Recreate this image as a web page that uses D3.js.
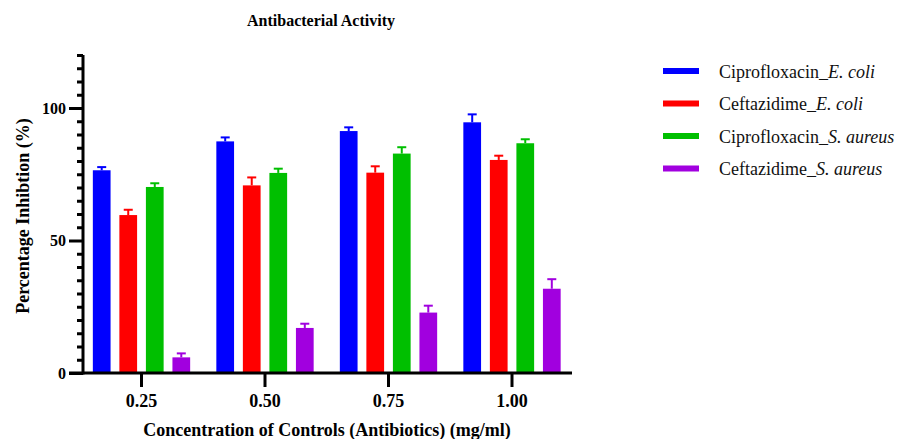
<!DOCTYPE html>
<html>
<head>
<meta charset="utf-8">
<script src="https://cdn.jsdelivr.net/npm/d3@7"></script>
<style>
  html, body { margin: 0; padding: 0; background: #fff; }
  text { font-family: "Liberation Serif", "Times New Roman", serif; }
</style>
</head>
<body>
<svg id="chart" width="899" height="439"></svg>
<script>
const categories = ["0.25", "0.50", "0.75", "1.00"];
const seriesNames = ["Ciprofloxacin_E. coli", "Ceftazidime_E. coli", "Ciprofloxacin_S. aureus", "Ceftazidime_S. aureus"];
const legendParts = [
  ["Ciprofloxacin_", "E. coli"],
  ["Ceftazidime_", "E. coli"],
  ["Ciprofloxacin_", "S. aureus"],
  ["Ceftazidime_", "S. aureus"]
];
const colors = ["#0000FF", "#FF0000", "#00BF00", "#A100DF"];
const cipEcoli = [76.5, 87.4, 91.3, 94.6];
const cefEcoli = [59.6, 70.8, 75.6, 80.4];
const cipSaureus = [70.2, 75.5, 82.8, 86.7];
const cefSaureus = [5.9, 17.0, 22.8, 31.8];
const cipEcoliErr = [1.2, 1.5, 1.4, 3.0];
const cefEcoliErr = [2.0, 3.0, 2.4, 1.6];
const cipSaureusErr = [1.4, 1.6, 2.4, 1.5];
const cefSaureusErr = [1.5, 1.6, 2.6, 3.6];
const yMajorTicks = [0, 50, 100];

const values = [cipEcoli, cefEcoli, cipSaureus, cefSaureus];
const errors = [cipEcoliErr, cefEcoliErr, cipSaureusErr, cefSaureusErr];

const svg = d3.select("#chart");

const axisX = 83, baseY = 373;
const y = d3.scaleLinear().domain([0, 120]).range([baseY, 55]);
const x = d3.scaleBand().domain(categories).range([79.75, 573.75])
  .paddingInner(0.212).paddingOuter(0.106);
const xs = d3.scaleBand().domain(seriesNames).range([0, x.bandwidth()])
  .paddingInner(0.332).paddingOuter(0);

// bars
const data = [];
categories.forEach((c, i) => {
  seriesNames.forEach((s, j) => {
    data.push({ cat: c, ser: s, v: values[j][i], e: errors[j][i], color: colors[j] });
  });
});

const g = svg.append("g");
g.selectAll("rect.bar").data(data).join("rect")
  .attr("class", "bar")
  .attr("x", d => x(d.cat) + xs(d.ser))
  .attr("width", xs.bandwidth())
  .attr("y", d => y(d.v))
  .attr("height", d => baseY - y(d.v))
  .attr("fill", d => d.color);

// error bars
const capW = 9;
g.selectAll("line.err").data(data).join("line")
  .attr("class", "err")
  .attr("x1", d => x(d.cat) + xs(d.ser) + xs.bandwidth() / 2)
  .attr("x2", d => x(d.cat) + xs(d.ser) + xs.bandwidth() / 2)
  .attr("y1", d => y(d.v))
  .attr("y2", d => y(d.v + d.e))
  .attr("stroke", d => d.color).attr("stroke-width", 2);
g.selectAll("line.cap").data(data).join("line")
  .attr("class", "cap")
  .attr("x1", d => x(d.cat) + xs(d.ser) + xs.bandwidth() / 2 - capW / 2)
  .attr("x2", d => x(d.cat) + xs(d.ser) + xs.bandwidth() / 2 + capW / 2)
  .attr("y1", d => y(d.v + d.e))
  .attr("y2", d => y(d.v + d.e))
  .attr("stroke", d => d.color).attr("stroke-width", 2);

// Y axis
const yMinor = d3.range(0, 121, 5).filter(v => !yMajorTicks.includes(v));
const yAxisMinor = d3.axisLeft(y).tickValues(yMinor).tickSize(6).tickFormat("");
const yAxisMajor = d3.axisLeft(y).tickValues(yMajorTicks).tickSize(14).tickPadding(3).tickFormat(d3.format("d"));
const ya1 = svg.append("g").attr("transform", `translate(${axisX},0)`).call(yAxisMinor);
const ya2 = svg.append("g").attr("transform", `translate(${axisX},0)`).call(yAxisMajor);
[ya1, ya2].forEach(a => {
  a.select(".domain").remove();
  a.selectAll(".tick line").attr("stroke", "#000").attr("stroke-width", 3);
});
ya2.selectAll(".tick text")
  .attr("font-family", "'Liberation Serif', serif")
  .attr("font-size", 16).attr("font-weight", "bold").attr("fill", "#000");
svg.append("line").attr("x1", axisX).attr("x2", axisX)
  .attr("y1", y(120)).attr("y2", baseY + 1.5)
  .attr("stroke", "#000").attr("stroke-width", 3);

// X axis
const xa = svg.append("g").attr("transform", `translate(0,${baseY})`)
  .call(d3.axisBottom(x).tickSize(14).tickPadding(7));
xa.select(".domain").remove();
xa.selectAll(".tick line").attr("stroke", "#000").attr("stroke-width", 3);
xa.selectAll(".tick text")
  .attr("font-family", "'Liberation Serif', serif")
  .attr("font-size", 18).attr("font-weight", "bold").attr("fill", "#000");
svg.append("line").attr("x1", axisX - 14).attr("x2", 572)
  .attr("y1", baseY).attr("y2", baseY)
  .attr("stroke", "#000").attr("stroke-width", 3);

// Titles
svg.append("text").attr("x", 321).attr("y", 26).attr("text-anchor", "middle")
  .attr("font-size", 16).attr("font-weight", "bold").text("Antibacterial Activity");
svg.append("text").attr("x", 327).attr("y", 436).attr("text-anchor", "middle")
  .attr("font-size", 18).attr("font-weight", "bold")
  .text("Concentration of Controls (Antibiotics) (mg/ml)");
svg.append("text").attr("transform", "translate(29,216) rotate(-90)")
  .attr("text-anchor", "middle").attr("font-size", 18).attr("font-weight", "bold")
  .text("Percentage Inhibtion (%)");

// Legend
const legY = d3.scalePoint().domain(seriesNames).range([71, 168.5]);
const leg = svg.append("g");
seriesNames.forEach((s, j) => {
  leg.append("rect").attr("x", 663).attr("y", legY(s) - 3).attr("width", 36).attr("height", 6)
    .attr("fill", colors[j]);
  const t = leg.append("text").attr("x", 719).attr("y", legY(s) + 6.5).attr("font-size", 18).attr("fill", "#111");
  t.append("tspan").text(legendParts[j][0]);
  t.append("tspan").attr("font-style", "italic").text(legendParts[j][1]);
});
</script>
</body>
</html>
